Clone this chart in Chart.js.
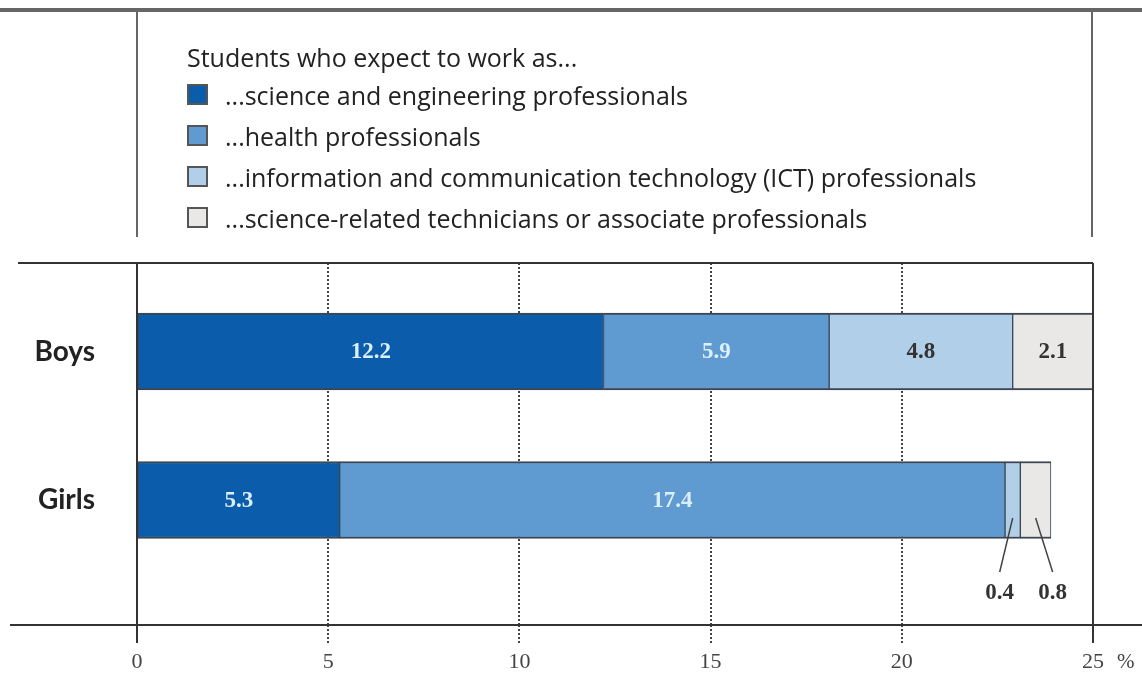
<!DOCTYPE html>
<html>
<head>
<meta charset="utf-8">
<script src="https://cdn.jsdelivr.net/npm/chart.js@4.4.1/dist/chart.umd.min.js"></script>
<style>
  html, body { margin: 0; padding: 0; background: #fff; }
  #wrap { position: relative; width: 1142px; height: 675px; }
  #legend { position: absolute; left: 187px; top: 40px; font-family: 'Open Sans', sans-serif; font-size: 25px; color: #222; }
  #legend .title { height: 34px; line-height: 34px; }
  #legend .item { height: 41px; display: flex; align-items: center; }
  #legend .box { width: 21px; height: 21px; border: 2px solid #555; box-sizing: border-box; margin-right: 17px; }
</style>
</head>
<body>
<div id="wrap">
  <canvas id="barChart" width="1142" height="675"></canvas>
  <div id="legend"></div>
</div>
<script>
const groups = ['Boys', 'Girls'];
const occupations = [
  '...science and engineering professionals',
  '...health professionals',
  '...information and communication technology (ICT) professionals',
  '...science-related technicians or associate professionals'
];
const boysValues = [12.2, 5.9, 4.8, 2.1];
const girlsValues = [5.3, 17.4, 0.4, 0.8];
const xTicks = [0, 5, 10, 15, 20, 25];

const colors = ['#0b5cab', '#5f9bd0', '#b1cfe8', '#e9e8e7'];
const labelColors = ['#dcefff', '#dcefff', '#333', '#333'];

// legend
const legend = document.getElementById('legend');
legend.innerHTML = '<div class="title">Students who expect to work as...</div>' +
  occupations.map((o, i) =>
    `<div class="item"><span class="box" style="background:${colors[i]}"></span>${o}</div>`
  ).join('');

// frame lines, axis extensions and value labels
const framePlugin = {
  id: 'frame',
  afterDatasetsDraw(chart) {
    const ctx = chart.ctx;
    const area = chart.chartArea;
    const xs = chart.scales.x;
    const x0 = xs.getPixelForValue(0);
    const x25 = xs.getPixelForValue(25);

    ctx.save();
    // header rule and legend box sides
    ctx.strokeStyle = '#666';
    ctx.lineWidth = 4;
    ctx.beginPath();
    ctx.moveTo(0, 10); ctx.lineTo(chart.width, 10);
    ctx.stroke();
    ctx.lineWidth = 2;
    ctx.beginPath();
    ctx.moveTo(x0, 12); ctx.lineTo(x0, 237);
    ctx.moveTo(x25 - 1, 12); ctx.lineTo(x25 - 1, 237);
    ctx.stroke();

    // plot frame
    ctx.strokeStyle = '#333';
    ctx.beginPath();
    ctx.moveTo(18, area.top); ctx.lineTo(x25, area.top);
    ctx.moveTo(x0, area.top); ctx.lineTo(x0, area.bottom + 18);
    ctx.moveTo(x25, area.top); ctx.lineTo(x25, area.bottom + 18);
    ctx.moveTo(10, area.bottom); ctx.lineTo(chart.width, area.bottom);
    ctx.stroke();

    ctx.fillStyle = '#444';
    ctx.font = '21px "Liberation Serif"';
    ctx.textAlign = 'left';
    ctx.textBaseline = 'middle';
    ctx.fillText('%', x25 + 24, area.bottom + 37);

    // value labels, small ones get a leader line below the bar
    ctx.font = 'bold 23px "Liberation Serif"';
    ctx.textAlign = 'center';
    let small = 0;
    chart.data.datasets.forEach((ds, i) => {
      const meta = chart.getDatasetMeta(i);
      meta.data.forEach((bar, j) => {
        const v = ds.data[j].x;
        const cx = (bar.x + bar.base) / 2;
        if (v >= 1) {
          ctx.fillStyle = labelColors[i];
          ctx.fillText(v.toFixed(1), cx, bar.y + 1);
        } else {
          const shift = small++ === 0 ? -13 : 17;
          ctx.strokeStyle = '#444';
          ctx.lineWidth = 1.5;
          ctx.beginPath();
          ctx.moveTo(cx, bar.y + 18);
          ctx.lineTo(cx + shift, bar.y + 72);
          ctx.stroke();
          ctx.fillStyle = '#333';
          ctx.fillText(v.toFixed(1), cx + shift, bar.y + 93);
        }
      });
    });
    ctx.restore();
  }
};

const datasets = occupations.map((label, i) => ({
  label: label,
  data: [{ x: boysValues[i], y: 0 }, { x: girlsValues[i], y: 1 }],
  backgroundColor: colors[i],
  borderColor: '#3b4652',
  borderWidth: { top: 2, bottom: 2, left: 1, right: 1 },
  borderSkipped: false,
  barThickness: 77
}));

// fixed scale boxes so the plot area lands where the frame expects it
function fixBox(size) {
  return s => {
    if (s.isHorizontal()) s.height = size; else s.width = size;
    s.paddingTop = 0; s.paddingBottom = 0;
    s.paddingLeft = 0; s.paddingRight = 0;
  };
}

const ctx = document.getElementById('barChart').getContext('2d');
const chart = new Chart(ctx, {
  type: 'bar',
  data: { datasets: datasets },
  options: {
    indexAxis: 'y',
    responsive: false,
    animation: false,
    layout: { padding: { top: 263, right: 49, left: 0, bottom: 0 } },
    plugins: {
      legend: { display: false },
      tooltip: { enabled: false }
    },
    scales: {
      x: {
        type: 'linear',
        min: 0,
        max: 25,
        stacked: true,
        afterFit: fixBox(50),
        afterBuildTicks: s => { s.ticks = xTicks.map(v => ({ value: v })); },
        grid: {
          color: c => (c.tick && (c.tick.value === 0 || c.tick.value === 25)) ? 'rgba(0,0,0,0)' : '#444',
          lineWidth: 2,
          tickLength: 18,
          tickBorderDash: [2, 2]
        },
        border: { display: false, dash: [2, 2] },
        ticks: { font: { family: 'Liberation Serif', size: 22 }, color: '#444', padding: 6 }
      },
      y: {
        type: 'linear',
        reverse: true,
        offset: false,
        min: -0.596,
        max: 1.842,
        stacked: true,
        afterFit: fixBox(137),
        afterBuildTicks: s => { s.ticks = groups.map((g, i) => ({ value: i })); },
        grid: { display: false, drawTicks: false },
        border: { display: false },
        ticks: {
          callback: v => groups[v],
          font: { family: 'Lato', size: 28, weight: 'bold' },
          color: '#222',
          padding: 42
        }
      }
    }
  },
  plugins: [framePlugin]
});
</script>
</body>
</html>
